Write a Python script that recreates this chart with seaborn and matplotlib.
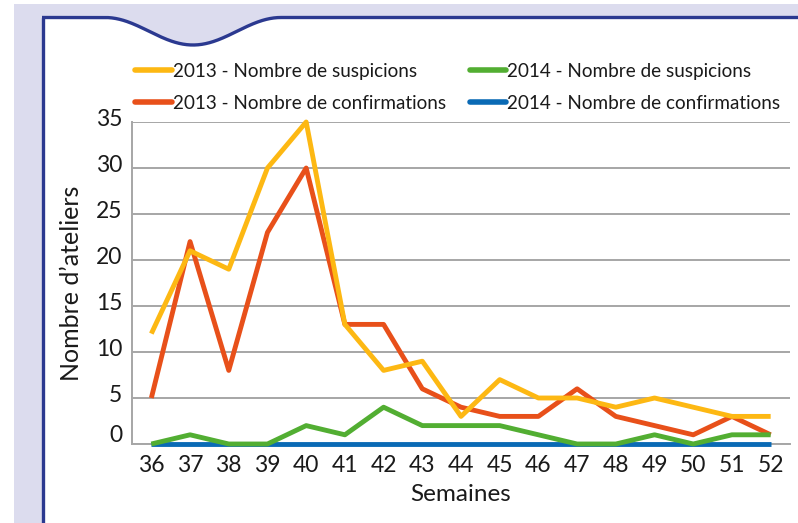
import numpy as np
import pandas as pd
import matplotlib.pyplot as plt
import matplotlib.transforms as mtransforms
from matplotlib.patches import Polygon, Rectangle
from matplotlib.lines import Line2D
import seaborn as sns

sns.set_style("white")
plt.rcParams['font.family'] = ['Lato', 'DejaVu Sans']

lavender = "#DCDCEE"
navy = "#2B3990"
grid_gray = "#A6A6A6"
text_col = "#1A1A1A"

semaines = list(range(36, 53))
susp_2013 = [12, 21, 19, 30, 35, 13, 8, 9, 3, 7, 5, 5, 4, 5, 4, 3, 3]
conf_2013 = [5, 22, 8, 23, 30, 13, 13, 6, 4, 3, 3, 6, 3, 2, 1, 3, 1]
susp_2014 = [0, 1, 0, 0, 2, 1, 4, 2, 2, 2, 1, 0, 0, 1, 0, 1, 1]
conf_2014 = [0, 0, 0, 0, 0, 0, 0, 0, 0, 0, 0, 0, 0, 0, 0, 0, 0]

labels = ["2013 - Nombre de suspicions", "2013 - Nombre de confirmations",
          "2014 - Nombre de suspicions", "2014 - Nombre de confirmations"]
colors = ["#FDB813", "#E8501A", "#52AE32", "#0A6AB5"]

df = pd.DataFrame({"Semaine": semaines, labels[0]: susp_2013, labels[1]: conf_2013,
                   labels[2]: susp_2014, labels[3]: conf_2014})

W, H = 798, 523
fig = plt.figure(figsize=(W / 100, H / 100), dpi=100)

# decorative frame in pixel coords
bg = fig.add_axes([0, 0, 1, 1], zorder=0)
bg.set_xlim(0, W)
bg.set_ylim(H, 0)
bg.axis("off")
bg.add_patch(Rectangle((14, 4), W, H, color=lavender, lw=0))
xs = np.linspace(42, W, 800)
ys = np.full_like(xs, 17.5)
m = np.abs(xs - 193) < 88
ys[m] = 17.5 + 27.5 * (1 + np.cos(np.pi * (xs[m] - 193) / 88)) / 2
poly = np.vstack([np.column_stack([xs, ys]), [[W, H + 5], [42, H + 5]]])
bg.add_patch(Polygon(poly, closed=True, color="white", lw=0))
bg.plot(xs, ys, color=navy, lw=2.4, solid_capstyle="butt")
bg.plot([42.5, 42.5], [17.5, H + 5], color=navy, lw=2.4)

ax = fig.add_axes([132 / W, 1 - 444 / H, (790 - 132) / W, (444 - 122) / H], zorder=1)
ax.patch.set_alpha(0)

zorders = [5, 4, 6, 3]
for lab, c, z in zip(labels, colors, zorders):
    sns.lineplot(data=df, x="Semaine", y=lab, color=c, lw=3.5, ax=ax, zorder=z,
                 solid_capstyle="butt", clip_on=False, label=lab, legend=False)

ax.set_xlim(35.5, 52.5)
ax.set_ylim(0, 35)
ax.set_xticks(semaines)
ax.set_xticks(np.arange(35.5, 53, 1), minor=True)
ax.set_yticks(range(0, 36, 5))
ax.yaxis.grid(True, color=grid_gray, lw=1.4)
ax.xaxis.grid(False)
ax.set_axisbelow(True)
for s in ["top", "right"]:
    ax.spines[s].set_visible(False)
for s in ["left", "bottom"]:
    ax.spines[s].set_color(grid_gray)
    ax.spines[s].set_linewidth(1.4)
ax.tick_params(axis="x", which="major", length=0, pad=8, labelsize=16.5, labelcolor=text_col)
ax.tick_params(axis="x", which="minor", direction="in", length=6, width=1.4, color=grid_gray)
ax.tick_params(axis="y", length=0, pad=7, labelsize=16.5, labelcolor=text_col)

for lbl in ax.get_yticklabels():
    dy = 11 if lbl.get_text() == "0" else 5
    lbl.set_transform(lbl.get_transform() + mtransforms.ScaledTranslation(0, dy / 100, fig.dpi_scale_trans))

ax.set_xlabel("Semaines", fontsize=17.5, color=text_col, labelpad=6)
ax.set_ylabel("Nombre d’ateliers", fontsize=18, color=text_col, labelpad=9)

handles = [Line2D([], [], color=c, lw=4) for c in colors]
fig.legend(handles, labels, loc="upper left", bbox_to_anchor=(135 / W, 1 - 63 / H),
           ncol=2, frameon=False, fontsize=13.6, handlelength=1.95, handletextpad=0.05,
           columnspacing=1.25, labelspacing=0.78, borderpad=0, borderaxespad=0,
           labelcolor=text_col)

fig.savefig("out.png", dpi=100)
